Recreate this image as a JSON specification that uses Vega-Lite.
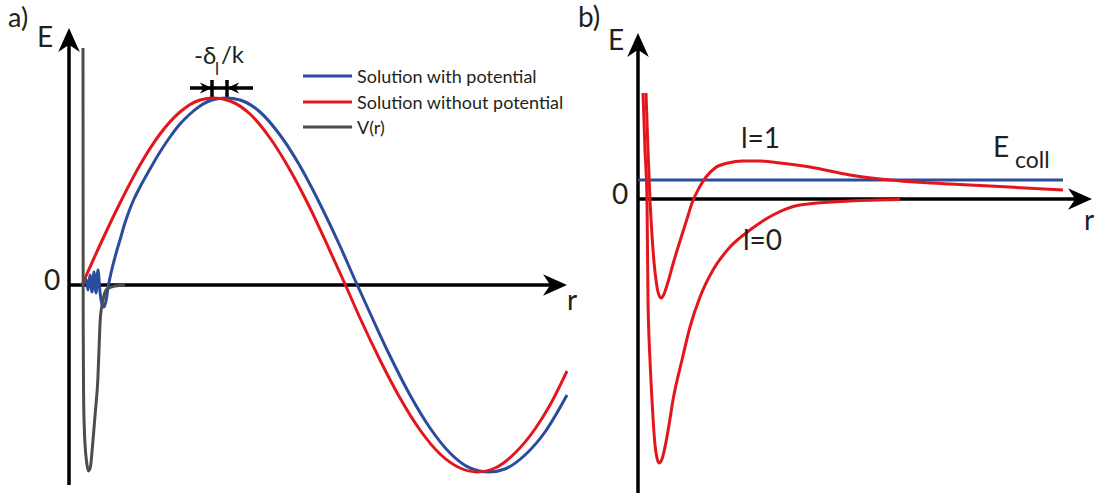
{
  "$schema": "https://vega.github.io/schema/vega-lite/v6.json",
  "background": "white",
  "padding": 0,
  "spacing": 0,
  "bounds": "flush",
  "config": {
    "view": {"stroke": null},
    "text": {"font": "Lato", "color": "#231f20"}
  },
  "resolve": {"scale": {"x": "independent", "y": "independent", "color": "independent", "shape": "independent"}},
  "datasets": {
    "waves": [
      {"series": "Solution with potential", "i": 0, "r": 14, "E": 1},
      {"series": "Solution with potential", "i": 1, "r": 17, "E": 6},
      {"series": "Solution with potential", "i": 2, "r": 19, "E": -5},
      {"series": "Solution with potential", "i": 3, "r": 21, "E": 10},
      {"series": "Solution with potential", "i": 4, "r": 23, "E": -7},
      {"series": "Solution with potential", "i": 5, "r": 25, "E": 13},
      {"series": "Solution with potential", "i": 6, "r": 27, "E": -8},
      {"series": "Solution with potential", "i": 7, "r": 29, "E": 15},
      {"series": "Solution with potential", "i": 8, "r": 31, "E": -7},
      {"series": "Solution with potential", "i": 9, "r": 33, "E": -19},
      {"series": "Solution with potential", "i": 10, "r": 35, "E": -22},
      {"series": "Solution with potential", "i": 11, "r": 37, "E": -16},
      {"series": "Solution with potential", "i": 12, "r": 39, "E": -3},
      {"series": "Solution with potential", "i": 13, "r": 42, "E": 12},
      {"series": "Solution with potential", "i": 14, "r": 45, "E": 24},
      {"series": "Solution with potential", "i": 15, "r": 48, "E": 35},
      {"series": "Solution with potential", "i": 16, "r": 51, "E": 45},
      {"series": "Solution with potential", "i": 17, "r": 55, "E": 59},
      {"series": "Solution with potential", "i": 18, "r": 59, "E": 71},
      {"series": "Solution with potential", "i": 19, "r": 65, "E": 86},
      {"series": "Solution with potential", "i": 20, "r": 71, "E": 98},
      {"series": "Solution with potential", "i": 21, "r": 81, "E": 116},
      {"series": "Solution with potential", "i": 22, "r": 91, "E": 133},
      {"series": "Solution with potential", "i": 23, "r": 101, "E": 148},
      {"series": "Solution with potential", "i": 24, "r": 111, "E": 161},
      {"series": "Solution with potential", "i": 25, "r": 121, "E": 171},
      {"series": "Solution with potential", "i": 26, "r": 131, "E": 179},
      {"series": "Solution with potential", "i": 27, "r": 143, "E": 185},
      {"series": "Solution with potential", "i": 28, "r": 157, "E": 187},
      {"series": "Solution with potential", "i": 29, "r": 171, "E": 185},
      {"series": "Solution with potential", "i": 30, "r": 191, "E": 173},
      {"series": "Solution with potential", "i": 31, "r": 211, "E": 150},
      {"series": "Solution with potential", "i": 32, "r": 231, "E": 119},
      {"series": "Solution with potential", "i": 33, "r": 251, "E": 81},
      {"series": "Solution with potential", "i": 34, "r": 271, "E": 39},
      {"series": "Solution with potential", "i": 35, "r": 286, "E": 5},
      {"series": "Solution with potential", "i": 36, "r": 301, "E": -28},
      {"series": "Solution with potential", "i": 37, "r": 321, "E": -71},
      {"series": "Solution with potential", "i": 38, "r": 341, "E": -110},
      {"series": "Solution with potential", "i": 39, "r": 361, "E": -143},
      {"series": "Solution with potential", "i": 40, "r": 381, "E": -168},
      {"series": "Solution with potential", "i": 41, "r": 401, "E": -183},
      {"series": "Solution with potential", "i": 42, "r": 420, "E": -187},
      {"series": "Solution with potential", "i": 43, "r": 436, "E": -184},
      {"series": "Solution with potential", "i": 44, "r": 456, "E": -170},
      {"series": "Solution with potential", "i": 45, "r": 476, "E": -147},
      {"series": "Solution with potential", "i": 46, "r": 498, "E": -110},

      {"series": "Solution without potential", "i": 0, "r": 13, "E": 0},
      {"series": "Solution without potential", "i": 1, "r": 31, "E": 40},
      {"series": "Solution without potential", "i": 2, "r": 51, "E": 82},
      {"series": "Solution without potential", "i": 3, "r": 71, "E": 120},
      {"series": "Solution without potential", "i": 4, "r": 91, "E": 151},
      {"series": "Solution without potential", "i": 5, "r": 111, "E": 173},
      {"series": "Solution without potential", "i": 6, "r": 131, "E": 185},
      {"series": "Solution without potential", "i": 7, "r": 145, "E": 187},
      {"series": "Solution without potential", "i": 8, "r": 161, "E": 184},
      {"series": "Solution without potential", "i": 9, "r": 181, "E": 171},
      {"series": "Solution without potential", "i": 10, "r": 201, "E": 147},
      {"series": "Solution without potential", "i": 11, "r": 221, "E": 115},
      {"series": "Solution without potential", "i": 12, "r": 241, "E": 77},
      {"series": "Solution without potential", "i": 13, "r": 261, "E": 34},
      {"series": "Solution without potential", "i": 14, "r": 276, "E": 1},
      {"series": "Solution without potential", "i": 15, "r": 291, "E": -33},
      {"series": "Solution without potential", "i": 16, "r": 311, "E": -75},
      {"series": "Solution without potential", "i": 17, "r": 331, "E": -113},
      {"series": "Solution without potential", "i": 18, "r": 351, "E": -145},
      {"series": "Solution without potential", "i": 19, "r": 371, "E": -169},
      {"series": "Solution without potential", "i": 20, "r": 391, "E": -183},
      {"series": "Solution without potential", "i": 21, "r": 408, "E": -187},
      {"series": "Solution without potential", "i": 22, "r": 426, "E": -183},
      {"series": "Solution without potential", "i": 23, "r": 446, "E": -168},
      {"series": "Solution without potential", "i": 24, "r": 466, "E": -144},
      {"series": "Solution without potential", "i": 25, "r": 481, "E": -120},
      {"series": "Solution without potential", "i": 26, "r": 498, "E": -86},

      {"series": "V(r)", "i": 0, "r": 14, "E": 237},
      {"series": "V(r)", "i": 1, "r": 14.1, "E": 100},
      {"series": "V(r)", "i": 2, "r": 14.2, "E": -40},
      {"series": "V(r)", "i": 3, "r": 14.6, "E": -110},
      {"series": "V(r)", "i": 4, "r": 15.2, "E": -140},
      {"series": "V(r)", "i": 5, "r": 16.2, "E": -162},
      {"series": "V(r)", "i": 6, "r": 17.6, "E": -177},
      {"series": "V(r)", "i": 7, "r": 19.5, "E": -186},
      {"series": "V(r)", "i": 8, "r": 21.4, "E": -182},
      {"series": "V(r)", "i": 9, "r": 22.9, "E": -168},
      {"series": "V(r)", "i": 10, "r": 24, "E": -155},
      {"series": "V(r)", "i": 11, "r": 26.5, "E": -125},
      {"series": "V(r)", "i": 12, "r": 28.8, "E": -95},
      {"series": "V(r)", "i": 13, "r": 30, "E": -65},
      {"series": "V(r)", "i": 14, "r": 31.2, "E": -35},
      {"series": "V(r)", "i": 15, "r": 34, "E": -15},
      {"series": "V(r)", "i": 16, "r": 38, "E": -4},
      {"series": "V(r)", "i": 17, "r": 46, "E": -1},
      {"series": "V(r)", "i": 18, "r": 56, "E": 0}
    ],
    "frameA": [
      {"part": "E axis", "r": 0, "E": -200, "r2": 0, "E2": 245},
      {"part": "r axis", "r": 0, "E": 0, "r2": 486, "E2": 0},
      {"part": "shift bar", "r": 121, "E": 197, "r2": 184, "E2": 197},
      {"part": "peak without", "r": 143, "E": 205, "r2": 143, "E2": 188},
      {"part": "peak with", "r": 158, "E": 205, "r2": 158, "E2": 188}
    ],
    "headsA": [
      {"kind": "axis", "dir": "up", "r": 0, "E": 257},
      {"kind": "axis", "dir": "right", "r": 498, "E": 0},
      {"kind": "shift", "dir": "right", "r": 143, "E": 197},
      {"kind": "shift", "dir": "left", "r": 158, "E": 197}
    ],
    "labelsA": [
      {"kind": "axisName", "text": "E", "r": -24, "E": 238},
      {"kind": "axisName", "text": "0", "r": -17, "E": -5},
      {"kind": "axisName", "text": "r", "r": 503, "E": -25},
      {"kind": "tag", "text": "a)", "r": -61, "E": 258},
      {"kind": "shift", "text": "-δ", "r": 125, "E": 221},
      {"kind": "shift", "text": "/k", "r": 152, "E": 222},
      {"kind": "sub", "text": "l", "r": 148, "E": 210}
    ],
    "legendA": [
      {"series": "Solution with potential", "r": 234, "r2": 283, "E": 209, "rt": 288, "Et": 202},
      {"series": "Solution without potential", "r": 234, "r2": 283, "E": 183, "rt": 288, "Et": 176},
      {"series": "V(r)", "r": 234, "r2": 283, "E": 158, "rt": 288, "Et": 151}
    ],
    "effective": [
      {"curve": "l=1", "i": 0, "r": 8, "E": 106},
      {"curve": "l=1", "i": 1, "r": 10, "E": 49},
      {"curve": "l=1", "i": 2, "r": 12, "E": -1},
      {"curve": "l=1", "i": 3, "r": 14, "E": -36},
      {"curve": "l=1", "i": 4, "r": 16, "E": -63},
      {"curve": "l=1", "i": 5, "r": 18, "E": -81},
      {"curve": "l=1", "i": 6, "r": 20, "E": -93},
      {"curve": "l=1", "i": 7, "r": 23, "E": -99},
      {"curve": "l=1", "i": 8, "r": 26, "E": -95},
      {"curve": "l=1", "i": 9, "r": 30, "E": -83},
      {"curve": "l=1", "i": 10, "r": 35, "E": -65},
      {"curve": "l=1", "i": 11, "r": 42, "E": -42},
      {"curve": "l=1", "i": 12, "r": 49, "E": -20},
      {"curve": "l=1", "i": 13, "r": 54, "E": -4},
      {"curve": "l=1", "i": 14, "r": 61, "E": 11},
      {"curve": "l=1", "i": 15, "r": 68, "E": 22},
      {"curve": "l=1", "i": 16, "r": 77, "E": 31},
      {"curve": "l=1", "i": 17, "r": 90, "E": 36},
      {"curve": "l=1", "i": 18, "r": 105, "E": 38},
      {"curve": "l=1", "i": 19, "r": 122, "E": 38},
      {"curve": "l=1", "i": 20, "r": 142, "E": 36},
      {"curve": "l=1", "i": 21, "r": 172, "E": 32},
      {"curve": "l=1", "i": 22, "r": 212, "E": 24},
      {"curve": "l=1", "i": 23, "r": 242, "E": 20},
      {"curve": "l=1", "i": 24, "r": 312, "E": 15},
      {"curve": "l=1", "i": 25, "r": 362, "E": 12.5},
      {"curve": "l=1", "i": 26, "r": 425, "E": 9},

      {"curve": "l=0", "i": 0, "r": 5, "E": 106},
      {"curve": "l=0", "i": 1, "r": 7, "E": 49},
      {"curve": "l=0", "i": 2, "r": 9, "E": -1},
      {"curve": "l=0", "i": 3, "r": 10, "E": -101},
      {"curve": "l=0", "i": 4, "r": 12, "E": -161},
      {"curve": "l=0", "i": 5, "r": 14, "E": -201},
      {"curve": "l=0", "i": 6, "r": 17, "E": -246},
      {"curve": "l=0", "i": 7, "r": 19, "E": -259},
      {"curve": "l=0", "i": 8, "r": 21, "E": -264},
      {"curve": "l=0", "i": 9, "r": 24, "E": -260},
      {"curve": "l=0", "i": 10, "r": 27, "E": -248},
      {"curve": "l=0", "i": 11, "r": 31, "E": -226},
      {"curve": "l=0", "i": 12, "r": 35, "E": -201},
      {"curve": "l=0", "i": 13, "r": 44, "E": -161},
      {"curve": "l=0", "i": 14, "r": 52, "E": -128},
      {"curve": "l=0", "i": 15, "r": 62, "E": -98},
      {"curve": "l=0", "i": 16, "r": 75, "E": -71},
      {"curve": "l=0", "i": 17, "r": 92, "E": -48},
      {"curve": "l=0", "i": 18, "r": 112, "E": -31},
      {"curve": "l=0", "i": 19, "r": 135, "E": -16},
      {"curve": "l=0", "i": 20, "r": 162, "E": -6},
      {"curve": "l=0", "i": 21, "r": 212, "E": -2},
      {"curve": "l=0", "i": 22, "r": 262, "E": -0.5}
    ],
    "frameB": [
      {"part": "E axis", "r": 0, "E": -294, "r2": 0, "E2": 154},
      {"part": "r axis", "r": 0, "E": 0, "r2": 442, "E2": 0}
    ],
    "collision": [
      {"level": "E_coll", "r": 0, "r2": 425, "E": 19}
    ],
    "headsB": [
      {"kind": "axis", "dir": "up", "r": 0, "E": 166},
      {"kind": "axis", "dir": "right", "r": 454, "E": 0}
    ],
    "labelsB": [
      {"kind": "axisName", "text": "E", "r": -22, "E": 149},
      {"kind": "axisName", "text": "0", "r": -18, "E": -5},
      {"kind": "axisName", "text": "r", "r": 451, "E": -31},
      {"kind": "tag", "text": "b)", "r": -60, "E": 172},
      {"kind": "tag", "text": "l=1", "r": 103, "E": 51},
      {"kind": "tag", "text": "l=0", "r": 105, "E": -51},
      {"kind": "tag", "text": "E", "r": 355, "E": 42},
      {"kind": "sub", "text": "coll", "r": 377, "E": 31}
    ]
  },
  "hconcat": [
    {
      "width": 575,
      "height": 493,
      "encoding": {
        "x": {"field": "r", "type": "quantitative", "scale": {"domain": [-69, 506], "nice": false, "zero": false}, "axis": null},
        "y": {"field": "E", "type": "quantitative", "scale": {"domain": [-208, 285], "nice": false, "zero": false}, "axis": null}
      },
      "layer": [
        {
          "data": {"name": "frameA"},
          "mark": {"type": "rule", "strokeWidth": 3.5, "color": "#000000"},
          "encoding": {"x2": {"field": "r2"}, "y2": {"field": "E2"}}
        },
        {
          "data": {"name": "headsA"},
          "transform": [{"filter": "datum.kind == 'axis'"}],
          "mark": {"type": "point", "filled": true, "opacity": 1, "color": "#000000", "size": 576, "strokeWidth": 0},
          "encoding": {
            "shape": {"field": "dir", "type": "nominal", "legend": null,
              "scale": {"domain": ["up", "right", "left"], "range": ["M0,0L-0.9,2L0,1.4L0.9,2Z", "M0,0L-2,-0.9L-1.4,0L-2,0.9Z", "M0,0L2,-0.9L1.4,0L2,0.9Z"]}}
          }
        },
        {
          "data": {"name": "headsA"},
          "transform": [{"filter": "datum.kind == 'shift'"}],
          "mark": {"type": "point", "filled": true, "opacity": 1, "color": "#000000", "size": 144, "strokeWidth": 0},
          "encoding": {
            "shape": {"field": "dir", "type": "nominal", "legend": null}
          }
        },
        {
          "data": {"name": "waves"},
          "mark": {"type": "line", "strokeWidth": 3, "interpolate": "monotone"},
          "encoding": {
            "color": {"field": "series", "type": "nominal", "legend": null,
              "scale": {"domain": ["Solution with potential", "Solution without potential", "V(r)"], "range": ["#2b4c9c", "#e4161d", "#4d4d4d"]}},
            "order": {"field": "i", "type": "quantitative"}
          }
        },
        {
          "data": {"name": "legendA"},
          "mark": {"type": "rule", "strokeWidth": 3},
          "encoding": {"x2": {"field": "r2"}, "color": {"field": "series", "type": "nominal", "legend": null}}
        },
        {
          "data": {"name": "legendA"},
          "mark": {"type": "text", "align": "left", "baseline": "alphabetic", "fontSize": 18},
          "encoding": {
            "x": {"field": "rt", "type": "quantitative"},
            "y": {"field": "Et", "type": "quantitative"},
            "text": {"field": "series"}
          }
        },
        {
          "data": {"name": "labelsA"},
          "transform": [{"filter": "datum.kind == 'axisName'"}],
          "mark": {"type": "text", "align": "center", "baseline": "alphabetic", "fontSize": 28},
          "encoding": {"text": {"field": "text"}}
        },
        {
          "data": {"name": "labelsA"},
          "transform": [{"filter": "datum.kind == 'tag'"}],
          "mark": {"type": "text", "align": "left", "baseline": "alphabetic", "fontSize": 27},
          "encoding": {"text": {"field": "text"}}
        },
        {
          "data": {"name": "labelsA"},
          "transform": [{"filter": "datum.kind == 'shift'"}],
          "mark": {"type": "text", "align": "left", "baseline": "alphabetic", "fontSize": 24},
          "encoding": {"text": {"field": "text"}}
        },
        {
          "data": {"name": "labelsA"},
          "transform": [{"filter": "datum.kind == 'sub'"}],
          "mark": {"type": "text", "align": "center", "baseline": "alphabetic", "fontSize": 17},
          "encoding": {"text": {"field": "text"}}
        }
      ]
    },
    {
      "width": 531,
      "height": 493,
      "encoding": {
        "x": {"field": "r", "type": "quantitative", "scale": {"domain": [-63, 468], "nice": false, "zero": false}, "axis": null},
        "y": {"field": "E", "type": "quantitative", "scale": {"domain": [-294, 199], "nice": false, "zero": false}, "axis": null}
      },
      "layer": [
        {
          "data": {"name": "frameB"},
          "mark": {"type": "rule", "strokeWidth": 3.5, "color": "#000000"},
          "encoding": {"x2": {"field": "r2"}, "y2": {"field": "E2"}}
        },
        {
          "data": {"name": "headsB"},
          "mark": {"type": "point", "filled": true, "opacity": 1, "color": "#000000", "size": 576, "strokeWidth": 0},
          "encoding": {
            "shape": {"field": "dir", "type": "nominal", "legend": null,
              "scale": {"domain": ["up", "right"], "range": ["M0,0L-0.9,2L0,1.4L0.9,2Z", "M0,0L-2,-0.9L-1.4,0L-2,0.9Z"]}}
          }
        },
        {
          "data": {"name": "collision"},
          "mark": {"type": "rule", "strokeWidth": 3, "color": "#2b4c9c"},
          "encoding": {"x2": {"field": "r2"}}
        },
        {
          "data": {"name": "effective"},
          "mark": {"type": "line", "strokeWidth": 3, "interpolate": "monotone", "color": "#e4161d"},
          "encoding": {
            "detail": {"field": "curve", "type": "nominal"},
            "order": {"field": "i", "type": "quantitative"}
          }
        },
        {
          "data": {"name": "labelsB"},
          "transform": [{"filter": "datum.kind == 'axisName'"}],
          "mark": {"type": "text", "align": "center", "baseline": "alphabetic", "fontSize": 28},
          "encoding": {"text": {"field": "text"}}
        },
        {
          "data": {"name": "labelsB"},
          "transform": [{"filter": "datum.kind == 'tag'"}],
          "mark": {"type": "text", "align": "left", "baseline": "alphabetic", "fontSize": 28},
          "encoding": {"text": {"field": "text"}}
        },
        {
          "data": {"name": "labelsB"},
          "transform": [{"filter": "datum.kind == 'sub'"}],
          "mark": {"type": "text", "align": "left", "baseline": "alphabetic", "fontSize": 23},
          "encoding": {"text": {"field": "text"}}
        }
      ]
    }
  ]
}
